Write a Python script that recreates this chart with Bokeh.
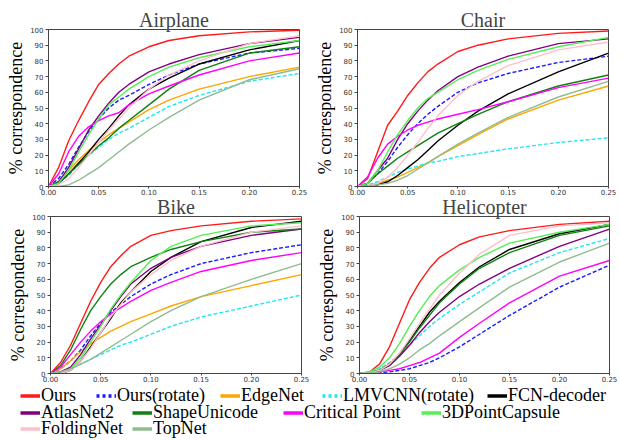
from bokeh.plotting import figure
from bokeh.models import Range1d, FixedTicker, PrintfTickFormatter, Legend, LegendItem
from bokeh.layouts import column, row
from bokeh.embed import file_html
from bokeh.resources import INLINE

# ---------------- data ----------------
XS = [0.0, 0.01, 0.02, 0.03, 0.04, 0.05, 0.06, 0.07, 0.08, 0.10, 0.12, 0.15, 0.20, 0.25]
X_TICKS = [0.0, 0.05, 0.10, 0.15, 0.20, 0.25]
Y_TICKS = [0, 10, 20, 30, 40, 50, 60, 70, 80, 90, 100]

METHODS = ["Ours", "Ours(rotate)", "EdgeNet", "LMVCNN(rotate)", "FCN-decoder",
           "AtlasNet2", "ShapeUnicode", "Critical Point", "3DPointCapsule",
           "FoldingNet", "TopNet"]

# Airplane
airplane_ours = [0, 12, 29, 42, 54, 65, 72, 78, 83, 89, 93, 96, 98.5, 99.5]
airplane_ours_rotate = [0, 5, 14, 25, 35, 43, 50, 55, 58, 65, 71, 78, 85, 88]
airplane_edgenet = [0, 3, 10, 17, 23, 28, 33, 37, 41, 49, 55, 62, 70, 76]
airplane_lmvcnn = [0, 2, 7, 14, 20, 25, 30, 34, 37, 44, 51, 58, 67, 72]
airplane_fcn = [0, 2, 8, 15, 22, 30, 37, 45, 52, 62, 69, 78, 87, 93]
airplane_atlasnet2 = [0, 3, 12, 24, 36, 45, 53, 60, 65, 73, 78, 84, 91, 95]
airplane_shapeunicode = [0, 3, 8, 14, 20, 26, 31, 37, 42, 52, 62, 74, 85, 89]
airplane_critical = [0, 8, 22, 32, 38, 42, 45, 47, 52, 59, 64, 71, 80, 85]
airplane_capsule = [0, 2, 10, 22, 33, 43, 52, 57, 62, 70, 76, 82, 89, 93]
airplane_folding = [0, 1, 5, 12, 20, 28, 36, 43, 50, 62, 71, 80, 91, 96]
airplane_topnet = [0, 0, 1, 4, 8, 12, 17, 22, 27, 36, 44, 55, 68, 75]

# Chair
chair_ours = [0, 5, 22, 39, 48, 58, 66, 73, 78, 86, 90, 94, 97.5, 99]
chair_ours_rotate = [0, 2, 8, 16, 25, 33, 40, 46, 51, 60, 66, 72, 79, 83]
chair_edgenet = [0, 0.5, 2, 4, 6, 9, 12, 15, 19, 26, 33, 43, 55, 64]
chair_lmvcnn = [0, 1, 3, 6, 9, 11, 13, 15, 16, 19, 21, 24, 28, 31]
chair_fcn = [0, 0, 1, 3, 7, 12, 17, 23, 29, 39, 48, 59, 73, 85]
chair_atlasnet2 = [0, 2, 10, 18, 30, 40, 48, 55, 61, 70, 76, 83, 91, 94]
chair_shapeunicode = [0, 2, 8, 13, 18, 22, 26, 30, 34, 40, 46, 54, 64, 71]
chair_critical = [0, 6, 18, 27, 32, 36, 39, 41, 43, 46, 49, 54, 63, 69]
chair_capsule = [0, 2, 10, 22, 33, 42, 50, 56, 60, 68, 74, 81, 89, 95]
chair_folding = [0, 0, 2, 6, 12, 20, 28, 37, 45, 58, 67, 77, 87, 92]
chair_topnet = [0, 0, 1, 2, 4, 7, 11, 15, 19, 27, 34, 44, 57, 67]

# Bike
bike_ours = [0, 7, 18, 32, 46, 58, 68, 75, 81, 88, 91, 94, 97, 98.5]
bike_ours_rotate = [0, 3, 8, 15, 24, 32, 39, 44, 49, 57, 63, 70, 77, 82]
bike_edgenet = [0, 3, 8, 14, 19, 23, 27, 30, 33, 38, 43, 49, 56, 63]
bike_lmvcnn = [0, 1, 3, 6, 9, 12, 15, 18, 20, 25, 30, 36, 43, 50]
bike_fcn = [0, 0, 2, 8, 17, 26, 35, 45, 52, 65, 74, 84, 93, 97]
bike_atlasnet2 = [0, 1, 4, 12, 22, 31, 40, 49, 57, 67, 74, 81, 88, 92]
bike_shapeunicode = [0, 5, 15, 28, 40, 49, 57, 63, 68, 74, 79, 84, 90, 92]
bike_critical = [0, 4, 12, 20, 27, 33, 38, 42, 46, 53, 58, 65, 72, 77]
bike_capsule = [0, 0, 3, 10, 20, 30, 41, 50, 58, 72, 81, 88, 94, 96]
bike_folding = [0, 0, 2, 8, 16, 26, 36, 44, 52, 63, 72, 81, 90, 94]
bike_topnet = [0, 1, 3, 6, 9, 13, 17, 21, 25, 33, 40, 49, 60, 70]

# Helicopter (no EdgeNet curve)
heli_ours = [0, 1, 6, 17, 32, 47, 58, 67, 74, 82, 87, 91, 95, 97]
heli_ours_rotate = [0, 0, 0.5, 1, 2, 3, 5, 7, 10, 17, 25, 37, 55, 69]
heli_lmvcnn = [0, 1, 3, 7, 12, 18, 24, 30, 35, 44, 52, 64, 77, 86]
heli_fcn = [0, 0.5, 2, 6, 12, 21, 30, 39, 46, 58, 68, 79, 89, 95]
heli_atlasnet2 = [0, 0.5, 2, 5, 11, 18, 26, 33, 39, 49, 57, 67, 81, 92]
heli_shapeunicode = [0, 0.5, 2, 6, 12, 20, 29, 37, 45, 57, 67, 77, 88, 94]
heli_critical = [0, 0.5, 1, 2, 3, 5, 7, 10, 13, 23, 32, 45, 62, 72]
heli_capsule = [0, 1, 4, 10, 19, 30, 40, 49, 56, 66, 74, 83, 90, 95]
heli_folding = [0, 0.5, 2, 6, 13, 22, 32, 41, 50, 64, 76, 88, 94, 96]
heli_topnet = [0, 0.5, 1, 3, 6, 10, 15, 19, 24, 33, 42, 55, 71, 83]

AIRPLANE = dict(zip(METHODS, [airplane_ours, airplane_ours_rotate, airplane_edgenet, airplane_lmvcnn,
                              airplane_fcn, airplane_atlasnet2, airplane_shapeunicode, airplane_critical,
                              airplane_capsule, airplane_folding, airplane_topnet]))
CHAIR = dict(zip(METHODS, [chair_ours, chair_ours_rotate, chair_edgenet, chair_lmvcnn,
                           chair_fcn, chair_atlasnet2, chair_shapeunicode, chair_critical,
                           chair_capsule, chair_folding, chair_topnet]))
BIKE = dict(zip(METHODS, [bike_ours, bike_ours_rotate, bike_edgenet, bike_lmvcnn,
                          bike_fcn, bike_atlasnet2, bike_shapeunicode, bike_critical,
                          bike_capsule, bike_folding, bike_topnet]))
HELI = {"Ours": heli_ours, "Ours(rotate)": heli_ours_rotate, "LMVCNN(rotate)": heli_lmvcnn,
        "FCN-decoder": heli_fcn, "AtlasNet2": heli_atlasnet2, "ShapeUnicode": heli_shapeunicode,
        "Critical Point": heli_critical, "3DPointCapsule": heli_capsule,
        "FoldingNet": heli_folding, "TopNet": heli_topnet}

# ---------------- styles ----------------
COLORS = {"Ours": "#ff1a1a", "Ours(rotate)": "#1a1aff", "EdgeNet": "#ffa500",
          "LMVCNN(rotate)": "#22e6f0", "FCN-decoder": "#000000", "AtlasNet2": "#800080",
          "ShapeUnicode": "#108010", "Critical Point": "#ff00ff", "3DPointCapsule": "#55ee55",
          "FoldingNet": "#ffbfca", "TopNet": "#8fbc8f"}
DASHED = {"Ours(rotate)", "LMVCNN(rotate)"}

SERIF = "Liberation Serif"
SANS = "DejaVu Sans"


def panel(title, series, width, height, bl, br, bt, bb):
    p = figure(width=width, height=height, x_range=Range1d(0, 0.25), y_range=Range1d(0, 100),
               output_backend="svg", toolbar_location=None,
               min_border_left=bl, min_border_right=br, min_border_top=bt, min_border_bottom=bb)
    p.title.text = title
    p.title.text_font = SERIF
    p.title.text_font_size = "20px"
    p.title.text_font_style = "normal"
    p.title.align = "center"
    p.title.vertical_align = "top"
    p.title.standoff = -6
    p.xgrid.visible = False
    p.ygrid.visible = False
    p.outline_line_color = "#444444"
    p.outline_line_width = 1
    p.outline_line_alpha = 1.0
    p.xaxis.ticker = FixedTicker(ticks=X_TICKS)
    p.xaxis.formatter = PrintfTickFormatter(format="%.2f")
    p.yaxis.ticker = FixedTicker(ticks=Y_TICKS)
    for ax in (p.xaxis[0], p.yaxis[0]):
        ax.major_label_text_font = SANS
        ax.major_label_text_font_size = "7px"
        ax.major_label_text_color = "#333333"
        ax.axis_line_color = "#444444"
        ax.major_tick_line_color = "#444444"
        ax.major_tick_in = 0
        ax.minor_tick_line_color = None
    p.xaxis.major_tick_out = 2
    p.yaxis.major_tick_out = 3
    p.xaxis.major_label_standoff = 0
    p.yaxis.major_label_standoff = 2
    p.yaxis.axis_label = "% correspondence"
    p.yaxis.axis_label_text_font = SERIF
    p.yaxis.axis_label_text_font_size = "18px"
    p.yaxis.axis_label_text_font_style = "normal"
    p.yaxis.axis_label_text_color = "#000000"
    p.yaxis.axis_label_standoff = 1
    for name in METHODS:
        if name in series:
            p.line(XS, series[name], line_color=COLORS[name], line_width=1.4,
                   line_dash="4 2" if name in DASHED else "solid")
    return p


tl = panel("Airplane", AIRPLANE, 310, 197, 48, 11, 28, 11)
tr = panel("Chair", CHAIR, 310, 197, 47, 12, 29, 11)
bl = panel("Bike", BIKE, 310, 187, 50, 9, 19, 11)
br = panel("Helicopter", HELI, 310, 187, 49, 11, 19, 11)

# ---------------- legend ----------------
leg = figure(width=620, height=55, output_backend="svg", toolbar_location=None,
             min_border=0, x_axis_type=None, y_axis_type=None)
leg.outline_line_color = None
LEGEND_ROWS = [["Ours", "Ours(rotate)", "EdgeNet", "LMVCNN(rotate)", "FCN-decoder"],
               ["AtlasNet2", "ShapeUnicode", "Critical Point", "3DPointCapsule"],
               ["FoldingNet", "TopNet"]]
LEGEND_X = [[20, 96, 220, 322, 487], [20, 132, 283, 421], [20, 132]]
LEGEND_Y = [33.5, 16, 0]
NAN = float("nan")
for r_i, names in enumerate(LEGEND_ROWS):
    for c_i, name in enumerate(names):
        rend = leg.line(x=[NAN], y=[NAN], line_color=COLORS[name], line_width=3.5,
                        line_dash="3 3" if name in DASHED else "solid")
        lg = Legend(items=[LegendItem(label=name, renderers=[rend])],
                    location=(LEGEND_X[r_i][c_i], LEGEND_Y[r_i]),
                    orientation="horizontal", padding=0, margin=0, spacing=0,
                    border_line_color=None, background_fill_alpha=0,
                    glyph_width=20, glyph_height=17, label_height=17, label_standoff=1,
                    label_text_font=SERIF, label_text_font_size="18px",
                    label_text_color="#000000")
        leg.add_layout(lg)

layout = column(row(tl, tr), row(bl, br), leg)
open("out.html", "w").write(file_html(layout, INLINE))
